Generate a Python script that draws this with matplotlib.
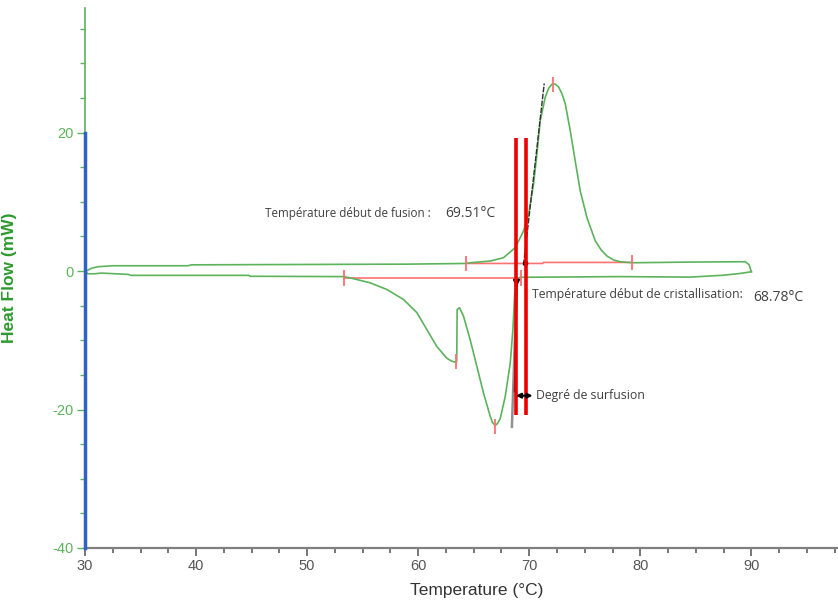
import matplotlib
matplotlib.use("Agg")
from matplotlib import pyplot as plt
import numpy as np

plt.rcParams["axes.unicode_minus"] = False

# heating curve (upper, fusion peak)
heat_T = [30.0, 30.57, 31.17, 32.52, 39.28, 39.58, 58.98, 64.32, 64.68, 66.49, 67.68,
          68.74, 69.49, 69.94, 70.39, 70.69, 70.99, 71.44, 71.75, 72.05, 72.35, 72.64,
          72.95, 73.24, 73.69, 74.14, 74.59, 75.20, 75.95, 76.5, 77.0, 77.6, 78.19,
          79.25, 84.5, 89.46, 89.8, 90.0]
heat_Y = [-0.1, 0.4, 0.63, 0.77, 0.77, 0.9, 1.0, 1.1, 1.2, 1.45, 1.93,
          3.38, 5.8, 8.2, 12.6, 16.9, 21.7, 25.1, 26.4, 27.0, 27.0, 26.6,
          25.6, 24.2, 20.3, 15.9, 11.6, 7.7, 4.35, 3.0, 2.17, 1.6, 1.35,
          1.2, 1.3, 1.35, 0.9, -0.1]

# cooling curve (lower, crystallisation peaks)
cool_T = [90.0, 89.0, 87.5, 84.5, 78.0, 69.19, 69.04, 68.77, 68.68, 68.53, 68.29, 67.84,
          67.39, 67.15, 66.94, 66.7, 66.49, 65.88, 65.29, 64.68, 64.08, 63.72, 63.51,
          63.47, 63.42, 63.0, 62.59, 61.68, 60.78, 59.88, 58.68, 57.18, 55.68, 54.17,
          53.33, 44.86, 44.76, 34.17, 33.87, 31.47, 30.87, 30.27, 30.0]
cool_Y = [-0.1, -0.34, -0.6, -0.87, -0.8, -0.9, -0.97, -1.7, -3.6, -8.45, -13.3, -18.1,
          -21.3, -22.0, -22.3, -21.9, -21.0, -17.6, -13.8, -9.9, -6.5, -5.3, -5.55,
          -13.0, -13.2, -13.0, -12.6, -10.9, -8.45, -6.0, -4.1, -2.66, -1.7, -1.1,
          -0.8, -0.75, -0.62, -0.62, -0.48, -0.29, -0.39, -0.39, -0.1]

# integration baselines and limit ticks
fus_base_T = [64.32, 71.2, 71.3, 79.25]
fus_base_Y = [1.1, 1.1, 1.25, 1.25]
cris_base_T = [53.33, 69.3]
cris_base_Y = [-1.05, -1.05]
tick_T = [64.32, 79.25, 72.1, 53.33, 63.42, 66.94, 69.3]
tick_Y = [1.1, 1.25, 27.0, -1.0, -13.1, -22.5, -1.0]

# tangents
fus_tan_T = [69.49, 71.35]
fus_tan_Y = [0.9, 27.1]
cris_tan_T = [68.89, 68.44]
cris_tan_Y = [-1.2, -22.5]

onset_lines = [68.8, 69.73]
fusion_onset = "69.51°C"
cris_onset = "68.78°C"

green = "#5cb35c"
red_light = "#ff7070"
txt = "#404040"

fig = plt.figure(figsize=(8.38, 6.01), dpi=100)
ax = fig.add_axes([0.1014, 0.0882, 0.8986, 0.8985])

ax.plot(heat_T, heat_Y, color=green, lw=1.2, zorder=3)
ax.plot(cool_T, cool_Y, color=green, lw=1.2, zorder=3)

ax.plot(fus_base_T, fus_base_Y, color=red_light, lw=1.2, zorder=2)
ax.plot(cris_base_T, cris_base_Y, color=red_light, lw=1.2, zorder=2)
ax.vlines(tick_T, np.array(tick_Y) - 1.1, np.array(tick_Y) + 1.1,
          color=red_light, lw=1.3, zorder=4)

ax.plot(fus_tan_T, fus_tan_Y, color="#303030", lw=1.0, ls=(0, (4, 1)), zorder=4)
ax.plot(cris_tan_T, cris_tan_Y, color="#909090", lw=1.8, zorder=4)
ax.plot([cris_tan_T[0], 68.68], [cris_tan_Y[0], -17.4], color="#202020", lw=1.2, zorder=5)

# onset markers
ax.plot([69.64, 69.64], [0.7, 2.9], color="black", lw=1.0, zorder=6)
ax.plot(69.64, 1.15, marker="o", ms=3, color="black", zorder=6)
ax.plot(68.85, -1.6, marker="v", ms=4, color="black", zorder=6)

# hand drawn red lines
ax.vlines(onset_lines, -20.8, 19.2, color="#ee0000", lw=2.6, zorder=7)

ax.annotate("", xy=(68.8, -18.0), xytext=(70.3, -18.0),
            arrowprops=dict(arrowstyle="<|-|>", color="black", lw=1.5,
                            mutation_scale=7, shrinkA=0, shrinkB=0), zorder=8)
ax.text(70.63, -18.0, "Degré de surfusion", fontsize=8.8, color=txt,
        family="Open Sans", va="center", ha="left")
ax.text(46.22, 8.26, "Température début de fusion :", fontsize=8.4, color=txt,
        family="Open Sans", va="center", ha="left")
ax.text(62.43, 8.26, fusion_onset, fontsize=10, color=txt,
        family="Open Sans", va="center", ha="left")
ax.text(70.24, -3.38, "Température début de cristallisation:", fontsize=8.8, color=txt,
        family="Open Sans", va="center", ha="left")
ax.text(90.18, -3.77, cris_onset, fontsize=10, color=txt,
        family="Open Sans", va="center", ha="left")

# blue segment on the y axis
ax.plot([30, 30], [20, -40], color="#3060c8", lw=2.5, clip_on=False, zorder=10)

ax.set_xlim(30, 97.8)
ax.set_ylim(-40, 38)
ax.spines["top"].set_visible(False)
ax.spines["right"].set_visible(False)
ax.spines["left"].set_color(green)
ax.spines["bottom"].set_color("#808080")
ax.spines["left"].set_linewidth(1.2)
ax.spines["bottom"].set_linewidth(1.6)

ax.set_xticks([30, 40, 50, 60, 70, 80, 90])
ax.set_xticks(np.arange(32.5, 98, 2.5), minor=True)
ax.set_yticks([-40, -20, 0, 20])
ax.set_yticks([-35, -30, -25, -15, -10, -5, 5, 10, 15, 25, 30, 35], minor=True)
ax.tick_params(axis="x", which="major", length=6, width=1.2, color="#606060",
               labelcolor="#555555", labelsize=10.5, pad=2)
ax.tick_params(axis="x", which="minor", length=3.5, width=1.2, color="#606060")
ax.tick_params(axis="y", which="major", length=6, width=1.0, color=green,
               labelcolor=green, labelsize=10.5, pad=2)
ax.tick_params(axis="y", which="minor", length=3.5, width=1.0, color=green)
for lab in ax.get_xticklabels() + ax.get_yticklabels():
    lab.set_family("Liberation Sans")

ax.set_xlabel("Temperature (°C)", fontsize=12.5, color="#333333",
              family="Liberation Sans")
ax.xaxis.set_label_coords(0.52, -0.064)
ax.set_ylabel("Heat Flow (mW)", fontsize=12.5, color="#2e9a2e",
              family="Liberation Sans", fontweight="bold")
ax.yaxis.set_label_coords(-0.09, 0.5)

fig.savefig("out.png", dpi=100)
